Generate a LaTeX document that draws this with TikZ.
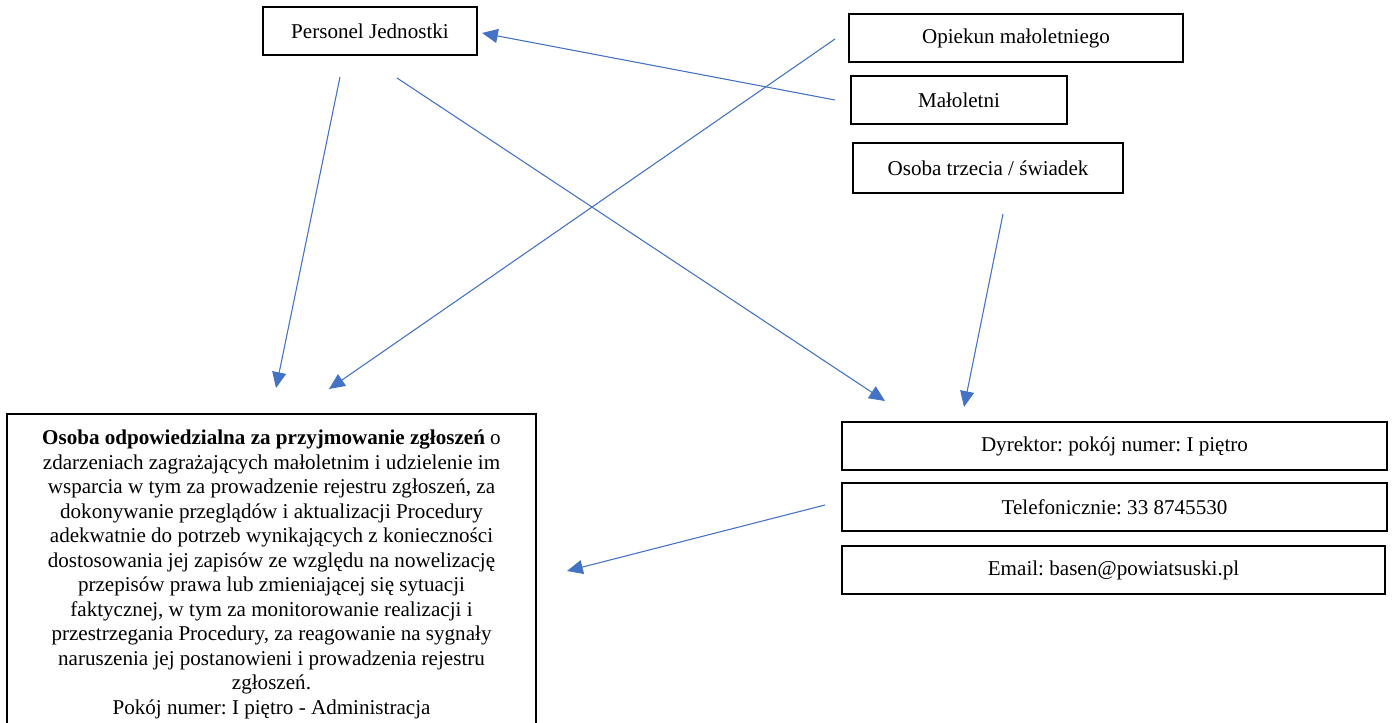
\documentclass[tikz,border=0pt]{standalone}
\usepackage{fontspec}
\setmainfont{Liberation Serif}
\usepackage{tikz}
\usetikzlibrary{arrows.meta}
\definecolor{wordblue}{RGB}{68, 114, 196}
\frenchspacing

\tikzset{
  ramka/.style={draw=black, line width=1pt, inner sep=0pt, align=center,
    font=\fontsize{12}{13.95}\selectfont},
  strzalka/.style={draw=wordblue, line width=0.6pt,
    -{Triangle[length=9pt, width=8pt]}, fill=wordblue}
}

\begin{document}
\begin{tikzpicture}[x=0.02cm, y=-0.02cm]
  \clip (0, 0) rectangle (1394, 723);

  % zgłaszający
  \node[ramka, minimum width=4.28cm, minimum height=0.96cm] (personel) at (370, 31) {Personel Jednostki};
  \node[ramka, minimum width=6.68cm, minimum height=0.96cm] (opiekun) at (1016, 38) {Opiekun małoletniego};
  \node[ramka, minimum width=4.32cm, minimum height=0.96cm] (maloletni) at (959, 100) {Małoletni};
  \node[ramka, minimum width=5.4cm, minimum height=1cm] (swiadek) at (988, 168) {Osoba trzecia / świadek};

  % odbiorcy zgłoszeń
  \node[ramka, anchor=north, minimum width=10.58cm, inner ysep=9.3pt] (osoba) at (271.5, 413) {
    \textbf{Osoba odpowiedzialna za przyjmowanie zgłoszeń} o\\
    zdarzeniach zagrażających małoletnim i udzielenie im\\
    wsparcia w tym za prowadzenie rejestru zgłoszeń, za\\
    dokonywanie przeglądów i aktualizacji Procedury\\
    adekwatnie do potrzeb wynikających z konieczności\\
    dostosowania jej zapisów ze względu na nowelizację\\
    przepisów prawa lub zmieniającej się sytuacji\\
    faktycznej, w tym za monitorowanie realizacji i\\
    przestrzegania Procedury, za reagowanie na sygnały\\
    naruszenia jej postanowieni i prowadzenia rejestru\\
    zgłoszeń.\\
    Pokój numer: I piętro - Administracja
  };

  \node[ramka, minimum width=10.9cm, minimum height=0.96cm] (dyrektor) at (1114.5, 446) {Dyrektor: pokój numer: I piętro};
  \node[ramka, minimum width=10.9cm, minimum height=0.96cm] (telefon) at (1114.5, 507) {Telefonicznie: 33 8745530};
  \node[ramka, minimum width=10.86cm, minimum height=0.96cm] (email) at (1113.5, 570) {Email: basen@powiatsuski.pl};

  % końce strzałek
  \coordinate (personel-a) at (340, 77);
  \coordinate (personel-b) at (397, 78);
  \coordinate (personel-c) at (482, 33);
  \coordinate (opiekun-a) at (835, 39);
  \coordinate (maloletni-a) at (835, 100);
  \coordinate (swiadek-a) at (1003, 214);
  \coordinate (telefon-a) at (825, 505);
  \coordinate (osoba-a) at (276, 388);
  \coordinate (osoba-b) at (329, 389);
  \coordinate (osoba-c) at (567, 571);
  \coordinate (dyrektor-a) at (885, 401);
  \coordinate (dyrektor-b) at (964, 407);

  \draw[strzalka] (personel-a) -- (osoba-a);
  \draw[strzalka] (personel-b) -- (dyrektor-a);
  \draw[strzalka] (opiekun-a) -- (osoba-b);
  \draw[strzalka] (maloletni-a) -- (personel-c);
  \draw[strzalka] (swiadek-a) -- (dyrektor-b);
  \draw[strzalka] (telefon-a) -- (osoba-c);
\end{tikzpicture}
\end{document}
